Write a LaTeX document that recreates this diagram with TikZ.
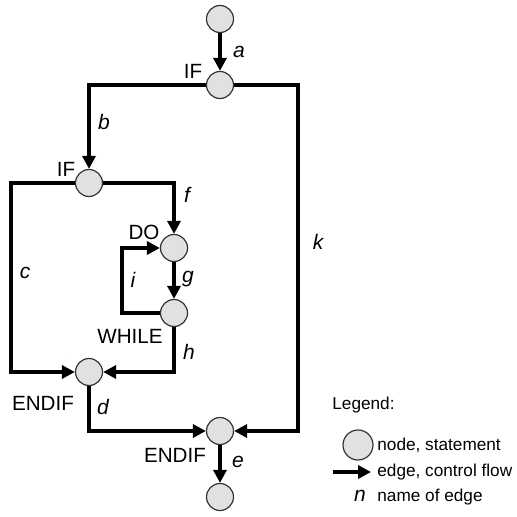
\documentclass[tikz,border=0pt]{standalone}
\usepackage{fontspec}
\setmainfont{Liberation Sans}
\usetikzlibrary{arrows.meta}
\definecolor{nodegray}{RGB}{224,225,227}
\begin{document}
\begin{tikzpicture}[x=0.5pt,y=-0.5pt,
  stmt/.style={circle,draw=black!80,line width=0.6pt,fill=nodegray,minimum size=13.5pt,inner sep=0pt},
  flow/.style={line width=1.6pt,-{Triangle[length=6.5pt,width=6.5pt]}},
  kw/.style={font=\fontsize{10.3}{12}\selectfont,inner sep=0pt},
  en/.style={font=\fontsize{10.5}{12}\selectfont\itshape,inner sep=0pt},
  lg/.style={font=\fontsize{8.6}{10}\selectfont,inner sep=0pt,anchor=west}]
\useasboundingbox (0,0) rectangle (517,517);
% nodes
\node[stmt] (top) at (220,19) {};
\node[stmt] (if1) at (220,85) {};
\node[stmt] (if2) at (89,183) {};
\node[stmt] (do) at (174,248) {};
\node[stmt] (wh) at (174,313) {};
\node[stmt] (end1) at (89,372) {};
\node[stmt] (end2) at (220,431) {};
\node[stmt] (bot) at (220,497) {};
% corner coordinates
\coordinate (bL) at (89,85);
\coordinate (kR) at (298,85);
\coordinate (kB) at (298,431);
\coordinate (cT) at (11,183);
\coordinate (cB) at (11,372);
\coordinate (fR) at (174,183);
\coordinate (iB) at (122,313);
\coordinate (iT) at (122,248);
\coordinate (hB) at (174,372);
\coordinate (dB) at (89,431);
% edges
\draw[flow] (top) -- (if1);
\draw[flow] (if1) -- (bL) -- (if2);
\draw[flow] (if1) -- (kR) -- (kB) -- (end2);
\draw[flow] (if2) -- (cT) -- (cB) -- (end1);
\draw[flow] (if2) -- (fR) -- (do);
\draw[flow] (do) -- (wh);
\draw[flow] (wh) -- (iB) -- (iT) -- (do);
\draw[flow] (wh) -- (hB) -- (end1);
\draw[flow] (end1) -- (dB) -- (end2);
\draw[flow] (end2) -- (bot);
% keyword labels
\node[kw] (lif1) at (193,71) {IF};
\node[kw] (lif2) at (66,169) {IF};
\node[kw] (ldo) at (144,232) {DO};
\node[kw] (lwh) at (130,336) {WHILE};
\node[kw] (lend1) at (43,403) {ENDIF};
\node[kw] (lend2) at (175,455) {ENDIF};
% edge names
\node[en] (la) at (239,52) {a};
\node[en] (lb) at (104,122) {b};
\node[en] (lf) at (187,195) {f};
\node[en] (lk) at (318,242) {k};
\node[en] (lc) at (25,273) {c};
\node[en] (li) at (133,280) {i};
\node[en] (lg) at (188,279) {g};
\node[en] (lh) at (189,352) {h};
\node[en] (ld) at (103,407) {d};
\node[en] (le) at (238,462) {e};
% legend
\node[lg] (leg) at (332,405) {Legend:};
\node[stmt,minimum size=15pt] (legn) at (358,445) {};
\node[lg] (legnt) at (377,445) {node, statement};
\coordinate (legA) at (333,472);
\coordinate (legB) at (371,472);
\draw[flow] (legA) -- (legB);
\node[lg] (legat) at (377,472) {edge, control flow};
\node[en] (legnn) at (360,496) {n};
\node[lg] (legnt2) at (377,497) {name of edge};
\end{tikzpicture}
\end{document}
